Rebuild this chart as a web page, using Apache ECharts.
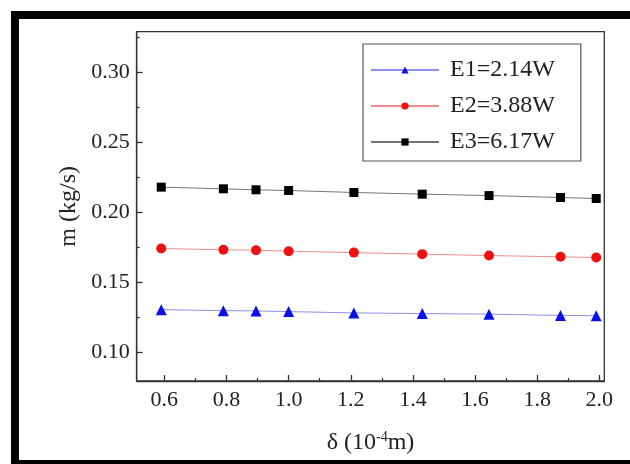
<!DOCTYPE html>
<html><head><meta charset="utf-8">
<script src="https://cdn.jsdelivr.net/npm/echarts@6/dist/echarts.min.js"></script>
<style>html,body{margin:0;padding:0;background:#fff}#c{width:630px;height:464px}</style>
</head><body><div id="c"></div>
<script>
const deltaX = [0.59, 0.79, 0.895, 1.0, 1.21, 1.43, 1.645, 1.875, 1.99];
const e1 = [0.1307, 0.1300, 0.1298, 0.1293, 0.1284, 0.1279, 0.1275, 0.1266, 0.1264];
const e2 = [0.1743, 0.1734, 0.1731, 0.1724, 0.1714, 0.1703, 0.1693, 0.1684, 0.1679];
const e3 = [0.2181, 0.2169, 0.2162, 0.2157, 0.2143, 0.2131, 0.2121, 0.2107, 0.2100];
const seriesNames = ['E1=2.14W', 'E2=3.88W', 'E3=6.17W'];
const xTicks = [0.6, 0.8, 1.0, 1.2, 1.4, 1.6, 1.8, 2.0];
const xMinorTicks = [0.7, 0.9, 1.1, 1.3, 1.5, 1.7, 1.9];
const yTicks = [0.10, 0.15, 0.20, 0.25, 0.30];
const yMinorTicks = [0.125, 0.175, 0.225, 0.275, 0.325];
const xRange = [0.511, 2.016];
const yRange = [0.0798, 0.329];

const font = "'Liberation Serif', 'Times New Roman', Times, serif";
const chart = echarts.init(document.getElementById('c'), null, {renderer: 'canvas'});
const pair = (ys) => deltaX.map((x, i) => [x, ys[i]]);
const axisColor = '#333';

chart.setOption({
  animation: false,
  backgroundColor: '#fff',
  grid: {left: 136.7, right: 25.7, top: 31.7, bottom: 83, show: true, borderColor: axisColor, borderWidth: 1.3, backgroundColor: 'transparent'},
  legend: {
    orient: 'vertical', left: 363, top: 44,
    data: seriesNames,
    itemWidth: 68, itemHeight: 9, itemGap: 12,
    padding: [14, 26, 7, 7],
    borderColor: '#555', borderWidth: 1.2, backgroundColor: '#fff',
    textStyle: {fontFamily: font, fontSize: 24, color: '#222', lineHeight: 23, padding: [0, 0, 0, 6]}
  },
  xAxis: [{
    type: 'value', min: xRange[0], max: xRange[1],
    name: '{a|δ (10}{s|-4}{a|m)}', nameLocation: 'middle', nameGap: 49,
    nameTextStyle: {rich: {
      a: {fontFamily: font, fontSize: 24, color: '#222'},
      s: {fontFamily: font, fontSize: 14, color: '#222', padding: [0, 0, 12, 0]}
    }},
    axisLine: {show: true, lineStyle: {color: axisColor, width: 1.3}},
    axisTick: {show: true, inside: true, length: 6, customValues: xTicks, lineStyle: {color: axisColor, width: 1.3}},
    axisLabel: {customValues: xTicks, fontFamily: font, fontSize: 22, color: '#222', margin: 8, formatter: v => v.toFixed(1)},
    splitLine: {show: false}
  }, {
    type: 'value', min: xRange[0], max: xRange[1], position: 'bottom',
    axisLine: {show: false},
    axisTick: {show: true, inside: true, length: 3, customValues: xMinorTicks, lineStyle: {color: axisColor, width: 1.2}},
    axisLabel: {show: false}, splitLine: {show: false}
  }],
  yAxis: [{
    type: 'value', min: yRange[0], max: yRange[1],
    name: 'm (kg/s)', nameLocation: 'middle', nameGap: 49,
    nameTextStyle: {fontFamily: font, fontSize: 24, color: '#222'},
    axisLine: {show: true, lineStyle: {color: axisColor, width: 1.3}},
    axisTick: {show: true, inside: true, length: 6, customValues: yTicks, lineStyle: {color: axisColor, width: 1.3}},
    axisLabel: {customValues: yTicks, fontFamily: font, fontSize: 22, color: '#222', margin: 7, formatter: v => v.toFixed(2)},
    splitLine: {show: false}
  }, {
    type: 'value', min: yRange[0], max: yRange[1], position: 'left',
    axisLine: {show: false},
    axisTick: {show: true, inside: true, length: 3, customValues: yMinorTicks, lineStyle: {color: axisColor, width: 1.2}},
    axisLabel: {show: false}, splitLine: {show: false}
  }],
  series: [
    {name: seriesNames[0], type: 'line', data: pair(e1), symbol: 'triangle', symbolSize: 11,
     itemStyle: {color: '#0a10e8'}, lineStyle: {color: '#8f8ff0', width: 1}},
    {name: seriesNames[1], type: 'line', data: pair(e2), symbol: 'circle', symbolSize: 10,
     itemStyle: {color: '#ee1111'}, lineStyle: {color: '#f08c8c', width: 1}},
    {name: seriesNames[2], type: 'line', data: pair(e3), symbol: 'rect', symbolSize: 9,
     itemStyle: {color: '#000'}, lineStyle: {color: '#777', width: 1}}
  ],
  graphic: [
    {type: 'rect', shape: {x: 11, y: 11, width: 619, height: 8}, style: {fill: '#000'}, z: 100},
    {type: 'rect', shape: {x: 11, y: 11, width: 8, height: 453}, style: {fill: '#000'}, z: 100},
    {type: 'rect', shape: {x: 11, y: 460, width: 619, height: 4}, style: {fill: '#000'}, z: 100}
  ]
});
</script></body></html>
